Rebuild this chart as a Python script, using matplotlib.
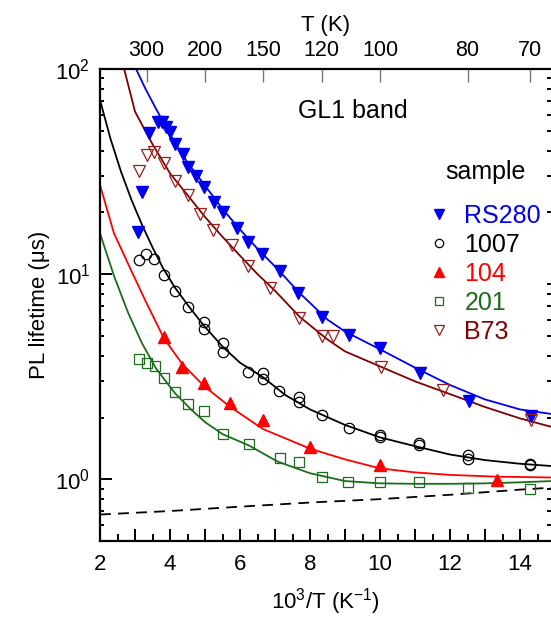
import numpy as np
import matplotlib
matplotlib.use("Agg")
import matplotlib.pyplot as plt
from matplotlib.ticker import FixedLocator, FuncFormatter, LogLocator, NullFormatter

plt.rcParams['font.family'] = ['Liberation Sans', 'DejaVu Sans']
plt.rcParams['mathtext.fontset'] = 'custom'
plt.rcParams['mathtext.rm'] = 'Liberation Sans'
plt.rcParams['mathtext.it'] = 'Liberation Sans:italic'

# measured points (x = 1000/T, y = lifetime in us)
rs280_x = [3.09, 3.19, 3.41, 3.65, 3.76, 3.89, 4.0, 4.14, 4.36, 4.5, 4.74, 4.97, 5.26,
           5.52, 5.91, 6.24, 6.62, 7.14, 7.67, 8.33, 9.12, 10.0, 11.14, 12.55, 14.31]
rs280_y = [16.1, 25.2, 48.6, 55, 55, 52.3, 49.5, 43, 38.5, 33.1, 30.2, 26.7, 22.4,
           20.1, 16.7, 14.4, 12.6, 10.3, 8.05, 6.19, 5.04, 4.37, 3.30, 2.41, 2.03]

s1007_x = [3.11, 3.31, 3.54, 3.83, 4.14, 4.5, 4.97, 4.97, 5.52, 5.52, 6.24, 6.65, 6.65,
           7.12, 7.69, 7.69, 8.33, 9.12, 10.0, 10.0, 11.11, 11.11, 12.5, 12.5, 14.29, 14.29]
s1007_y = [11.7, 12.5, 11.8, 9.89, 8.26, 6.88, 5.85, 5.43, 4.64, 4.15, 3.34, 3.30, 3.07,
           2.69, 2.52, 2.38, 2.05, 1.78, 1.64, 1.60, 1.50, 1.47, 1.32, 1.26, 1.19, 1.17]

s104_x = [3.83, 4.35, 4.97, 5.71, 6.65, 8.0, 10.0, 13.33]
s104_y = [4.91, 3.53, 2.95, 2.36, 1.95, 1.43, 1.17, 0.99]

s201_x = [3.11, 3.35, 3.57, 3.83, 4.14, 4.5, 4.97, 5.52, 6.26, 7.14, 7.69, 8.33, 9.09,
          10.0, 11.11, 12.5, 14.29]
s201_y = [3.84, 3.67, 3.57, 3.12, 2.65, 2.32, 2.15, 1.67, 1.49, 1.27, 1.22, 1.03, 0.97,
          0.97, 0.97, 0.91, 0.90]

b73_x = [3.11, 3.33, 3.55, 3.84, 4.14, 4.5, 4.86, 5.24, 5.76, 6.24, 6.86, 7.69, 8.33,
         8.67, 10.03, 11.79, 14.31]
b73_y = [31.9, 38, 39.2, 34.7, 28.4, 24.3, 19.6, 16.4, 13.8, 11.0, 8.51, 6.08, 4.98,
         4.98, 3.53, 2.72, 1.94]

# fit curves
fit_rs280_x = [3.03, 3.3, 3.6, 4.0, 4.5, 5.0, 5.5, 6.0, 6.5, 7.0, 7.7, 8.5, 9.0, 10, 11, 12, 13, 14, 14.9]
fit_rs280_y = [100, 80, 64, 48, 35, 27, 20.8, 16.5, 13.3, 10.9, 8.1, 6.0, 5.25, 4.3, 3.5, 2.88, 2.45, 2.19, 2.08]

fit_b73_x = [2.69, 3.0, 3.5, 4.0, 4.5, 5.0, 5.5, 6.0, 6.5, 7.0, 7.7, 8.5, 9.0, 10, 11, 12, 13, 14, 14.9]
fit_b73_y = [100, 62, 43, 31, 24.3, 19, 15.2, 12.3, 10.0, 8.3, 6.2, 4.8, 4.2, 3.55, 3.0, 2.6, 2.25, 1.98, 1.80]

fit_1007_x = [2.0, 2.3, 2.6, 2.9, 3.2, 3.5, 3.8, 4.14, 4.5, 4.97, 5.52, 6.0, 6.65, 7.3, 8.0,
              9.0, 10, 11, 12, 13, 14, 14.9]
fit_1007_y = [70.6, 45.7, 31.6, 23.0, 17.4, 13.5, 10.7, 8.6, 7.1, 5.6, 4.4, 3.7, 3.15, 2.57,
              2.19, 1.84, 1.60, 1.45, 1.32, 1.24, 1.19, 1.16]

fit_104_x = [2.0, 2.4, 2.86, 3.3, 3.83, 4.35, 4.97, 5.71, 6.65, 8.0, 9.0, 10, 11, 12, 13.3, 14.9]
fit_104_y = [27.2, 15.8, 10.7, 7.4, 4.85, 3.65, 2.85, 2.26, 1.76, 1.41, 1.25, 1.13, 1.08, 1.05, 1.03, 1.02]

fit_201_x = [2.0, 2.4, 2.8, 3.2, 3.6, 4.14, 4.6, 5.0, 5.5, 6.26, 7.07, 8.0, 9.0, 10, 11, 12, 13, 14, 14.9]
fit_201_y = [15.8, 9.8, 6.5, 4.6, 3.47, 2.63, 2.19, 1.9, 1.66, 1.46, 1.22, 1.07, 0.98, 0.955,
             0.95, 0.95, 0.955, 0.966, 0.98]

dash_x = [2, 4, 6, 8, 10, 12, 14, 14.9]
dash_y = [0.673, 0.70, 0.735, 0.77, 0.80, 0.84, 0.89, 0.91]

temp_ticks = [300, 200, 150, 120, 100, 80, 70]

c_blue = '#0000ee'
c_brown = '#800000'
c_b73 = '#9b1c1c'
c_red = '#ff0000'
c_green = '#1a6e1a'

fig = plt.figure(figsize=(5.51, 6.19), dpi=100)
ax = fig.add_axes([100 / 551, 1 - 541 / 619, 451 / 551, (541 - 69) / 619])

lw = 1.3
ax.plot(fit_rs280_x, fit_rs280_y, color=c_blue, lw=lw)
ax.plot(fit_b73_x, fit_b73_y, color=c_brown, lw=lw)
ax.plot(fit_1007_x, fit_1007_y, color='black', lw=lw)
ax.plot(fit_104_x, fit_104_y, color=c_red, lw=lw)
ax.plot(fit_201_x, fit_201_y, color=c_green, lw=lw)
ax.plot(dash_x, dash_y, color='black', lw=lw, ls=(0, (6, 4)))

ax.plot(rs280_x, rs280_y, ls='none', marker='v', ms=9, color=c_blue, label='RS280')
ax.plot(s1007_x, s1007_y, ls='none', marker='o', ms=7.5, mfc='none', mec='black', mew=0.9, label='1007')
ax.plot(s104_x, s104_y, ls='none', marker='^', ms=9, color=c_red, label='104')
ax.plot(s201_x, s201_y, ls='none', marker='s', ms=7, mfc='none', mec=c_green, mew=0.9, label='201')
ax.plot(b73_x, b73_y, ls='none', marker='v', ms=9, mfc='none', mec=c_b73, mew=0.9, label='B73')

ax.set_yscale('log')
ax.set_xlim(2, 2 + 451 / 35)
ax.set_ylim(0.5, 100)

ax.xaxis.set_major_locator(FixedLocator(np.arange(2, 15, 1)))
ax.xaxis.set_minor_locator(FixedLocator(np.arange(2.5, 15, 1)))
ax.xaxis.set_major_formatter(FuncFormatter(lambda v, p: f'{int(round(v))}' if int(round(v)) % 2 == 0 else ''))
ax.yaxis.set_major_locator(LogLocator(base=10, numticks=10))
ax.yaxis.set_minor_locator(LogLocator(base=10, subs=np.arange(2, 10), numticks=10))
ax.yaxis.set_major_formatter(FuncFormatter(lambda v, p: r'$\mathregular{10^{%d}}$' % int(round(np.log10(v)))))
ax.yaxis.set_minor_formatter(NullFormatter())

ax.tick_params(which='both', direction='in', top=False, right=True, width=1.4, labelsize=16)
ax.tick_params(which='major', length=8.5, pad=9)
ax.tick_params(which='minor', length=5)
ax.tick_params(axis='y', which='major', right=False, pad=7)
ax.tick_params(axis='y', which='minor', right=True, length=3)
ax.tick_params(axis='x', which='both', right=False)
for s in ['left', 'bottom', 'top']:
    ax.spines[s].set_linewidth(1.6)
ax.spines['right'].set_visible(False)


def to_temp(x):
    x = np.asarray(x, dtype=float)
    with np.errstate(divide='ignore'):
        return 1000.0 / x


secax = ax.secondary_xaxis('top', functions=(to_temp, to_temp))
secax.set_xticks(temp_ticks)
secax.set_xticklabels([str(t) for t in temp_ticks])
secax.tick_params(direction='in', length=9, width=1, color='#777777', labelsize=15.5, pad=6)
secax.spines['top'].set_visible(False)
secax.set_xlabel('T (K)', fontsize=16, labelpad=6)

ax.set_xlabel(r'$\mathregular{10^3}$/T (K$^\mathregular{-1}$)', fontsize=16, labelpad=8)
ax.set_ylabel('PL lifetime (\u03bcs)', fontsize=16, labelpad=4)

ax.text(0.561, 0.912, 'GL1 band', transform=ax.transAxes, ha='center', va='center', fontsize=18)
ax.text(0.854, 0.782, 'sample', transform=ax.transAxes, ha='center', va='center', fontsize=18)

leg = ax.legend(loc='upper left', bbox_to_anchor=(0.6905, 0.751), frameon=False,
                fontsize=18, handlelength=0.8, handletextpad=0.62,
                labelspacing=0.2, markerscale=0.8, borderpad=0.2,
                labelcolor=[c_blue, 'black', c_red, c_green, c_brown])

fig.savefig('out.png', dpi=100)
